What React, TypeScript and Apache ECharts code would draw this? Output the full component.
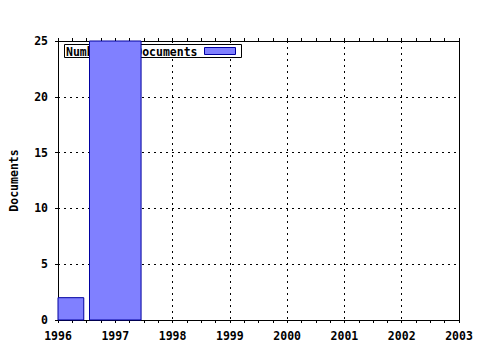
import React, { useEffect, useRef } from "react";
import * as echarts from "echarts";

const years = [1996, 1997];
const documents = [2, 25];
const seriesName = "Number of Documents";
const yAxisName = "Documents";
const xRange = [1996, 2003];
const yRange = [0, 25];

const FONT = "DejaVu Sans Mono";

export default function App() {
  const ref = useRef<HTMLDivElement>(null);
  useEffect(() => {
    if (!ref.current) return;
    const chart = echarts.init(ref.current, undefined, { renderer: "svg" });
    const labelStyle = {
      color: "#000",
      fontFamily: FONT,
      fontWeight: "bold" as const,
      fontSize: 11.5,
    };
    const gridLine = {
      show: true,
      lineStyle: { color: "#000", width: 1, type: [2, 4] as any },
    };
    const baseX = {
      type: "value" as const,
      min: xRange[0],
      max: xRange[1],
      interval: 1,
      axisLine: { show: true, onZero: false, lineStyle: { color: "#000", width: 1 } },
      axisTick: { show: true, inside: false, length: 3, lineStyle: { color: "#000" } },
      minorTick: { show: true, splitNumber: 4, length: 3, lineStyle: { color: "#000" } },
    };
    chart.setOption({
      animation: false,
      backgroundColor: "#fff",
      grid: { left: 57, right: 21, top: 41, bottom: 30, containLabel: false },
      xAxis: [
        {
          ...baseX,
          position: "bottom",
          axisLabel: { ...labelStyle, margin: 10, formatter: (v: number) => String(v) },
          splitLine: gridLine,
        },
        {
          ...baseX,
          position: "top",
          axisLabel: { show: false },
          splitLine: { show: false },
        },
      ],
      yAxis: [
        {
          type: "value",
          min: yRange[0],
          max: yRange[1],
          interval: 5,
          name: yAxisName,
          nameLocation: "middle",
          nameGap: 38,
          nameRotate: 90,
          nameTextStyle: { ...labelStyle },
          axisLine: { show: true, lineStyle: { color: "#000", width: 1 } },
          axisTick: { show: true, inside: false, length: 3, lineStyle: { color: "#000" } },
          axisLabel: { ...labelStyle, margin: 10 },
          splitLine: gridLine,
        },
        {
          type: "value",
          min: yRange[0],
          max: yRange[1],
          interval: 5,
          position: "right",
          axisLine: { show: true, lineStyle: { color: "#000", width: 1 } },
          axisTick: { show: false },
          axisLabel: { show: false },
          splitLine: { show: false },
        },
      ],
      graphic: [
        {
          type: "group",
          z: 1,
          children: [
            {
              type: "rect",
              z: 1,
              shape: { x: 64.5, y: 44.5, width: 177, height: 13 },
              style: { fill: "#fff", stroke: "#000", lineWidth: 1 },
            },
            {
              type: "text",
              z: 1,
              x: 66,
              y: 51.5,
              style: {
                text: seriesName,
                fill: "#000",
                font: `bold 11.5px "${FONT}"`,
                verticalAlign: "middle",
                align: "left",
              },
            },
            {
              type: "rect",
              z: 1,
              shape: { x: 204.5, y: 47.5, width: 31, height: 7 },
              style: { fill: "#8080ff", stroke: "#0000a0", lineWidth: 1 },
            },
          ],
        },
      ],
      series: [
        {
          type: "custom",
          name: seriesName,
          z: 5,
          xAxisIndex: 0,
          yAxisIndex: 0,
          data: years.map((y, i) => [y, documents[i]]),
          renderItem: (params: any, api: any) => {
            const x = api.value(0);
            const v = api.value(1);
            const p0 = api.coord([x - 0.45, v]);
            const p1 = api.coord([x + 0.45, 0]);
            const cs = params.coordSys;
            const shape = echarts.graphic.clipRectByRect(
              { x: p0[0], y: p0[1], width: p1[0] - p0[0], height: p1[1] - p0[1] },
              { x: cs.x, y: cs.y, width: cs.width, height: cs.height }
            );
            if (!shape) return null;
            return {
              type: "rect",
              shape,
              style: { fill: "#8080ff", stroke: "#0000a0", lineWidth: 1 },
            };
          },
        },
      ],
    });
    return () => chart.dispose();
  }, []);
  return (
    <div
      ref={ref}
      style={{ position: "fixed", left: 0, top: 0, width: 480, height: 350, background: "#fff" }}
    />
  );
}
